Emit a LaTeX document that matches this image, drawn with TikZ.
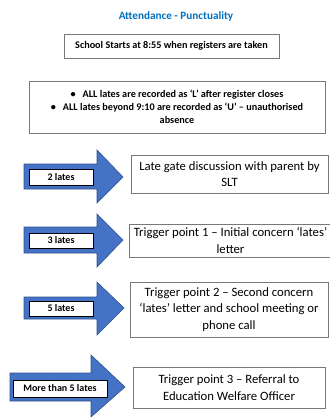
\documentclass[tikz,border=0pt]{standalone}
\usepackage{fontspec}
\setmainfont{Carlito}
\definecolor{attblue}{RGB}{0,112,192}
\definecolor{arrowfill}{RGB}{68,114,196}
\definecolor{arrowline}{RGB}{47,82,143}
\definecolor{boxgray}{RGB}{120,120,120}
\tikzset{
  infobox/.style={draw=boxgray,fill=white,line width=0.6pt,align=center,inner sep=0pt,
    font=\bfseries\fontsize{10.2}{13}\selectfont},
  stagebox/.style={draw=boxgray,fill=white,line width=0.6pt,align=center,inner sep=0pt,
    font=\fontsize{12.7}{16.5}\selectfont},
  latesbox/.style={draw=black,fill=white,line width=0.8pt,inner sep=0pt,
    font=\bfseries\fontsize{10}{11}\selectfont},
  bluearrow/.style={fill=arrowfill,draw=arrowline,line width=0.6pt},
}

\begin{document}
\begin{tikzpicture}[x=1pt,y=-1pt]
        \useasboundingbox (0,0) rectangle (329,417);
        % heading and the two rule boxes
        \node[text=attblue,font=\bfseries\fontsize{11.2}{13}\selectfont] (title) at (176,16) {Attendance - Punctuality};
        \node[infobox,minimum width=215pt,minimum height=24pt] (start) at (171.5,46)
          {School Starts at 8:55 when registers are taken};
        \node[infobox,minimum width=296pt,minimum height=52pt] (rules) at (177,107)
          {\textbullet\hspace{7pt}ALL lates are recorded as `L' after register closes\\
           \textbullet\hspace{7pt}ALL lates beyond 9:10 are recorded as `U' -- unauthorised\\
           absence};
        % arrows
        \draw[bluearrow] (24,164) -- (97,164) -- (97,150) -- (123,177) -- (97,203) -- (97,189) -- (24,189) -- cycle;
        \draw[bluearrow] (24,227) -- (97,227) -- (97,214) -- (123,240) -- (97,267) -- (97,253) -- (24,253) -- cycle;
        \draw[bluearrow] (24,297) -- (97,297) -- (97,282) -- (124,308) -- (97,335) -- (97,319) -- (24,319) -- cycle;
        \draw[bluearrow] (10,373) -- (91,373) -- (91,355) -- (125,387) -- (91,417) -- (91,401) -- (10,401) -- cycle;
        % counts of lates
        \node[latesbox,minimum width=64pt,minimum height=16pt] (two) at (61,177) {2 lates};
        \node[latesbox,minimum width=64pt,minimum height=15pt] (three) at (61,240.5) {3 lates};
        \node[latesbox,minimum width=64pt,minimum height=15pt] (five) at (61,308.5) {5 lates};
        \node[latesbox,minimum width=94pt,minimum height=17pt] (more) at (60,388.5) {More than 5 lates};
        % actions
        \node[stagebox,minimum width=197pt,minimum height=38pt] (gate) at (229.5,174)
          {Late gate discussion with parent by\\ SLT};
        \node[stagebox,minimum width=203pt,minimum height=33pt] (trig1) at (230.5,240.5)
          {Trigger point 1 -- Initial concern `lates'\\ letter};
        \node[stagebox,minimum width=198pt,minimum height=55pt] (trig2) at (229,309.5)
          {Trigger point 2 -- Second concern\\ `lates' letter and school meeting or\\ phone call};
        \node[stagebox,minimum width=192pt,minimum height=41pt] (trig3) at (229,387.5)
          {Trigger point 3 -- Referral to\\ Education Welfare Officer};
\end{tikzpicture}
\end{document}
